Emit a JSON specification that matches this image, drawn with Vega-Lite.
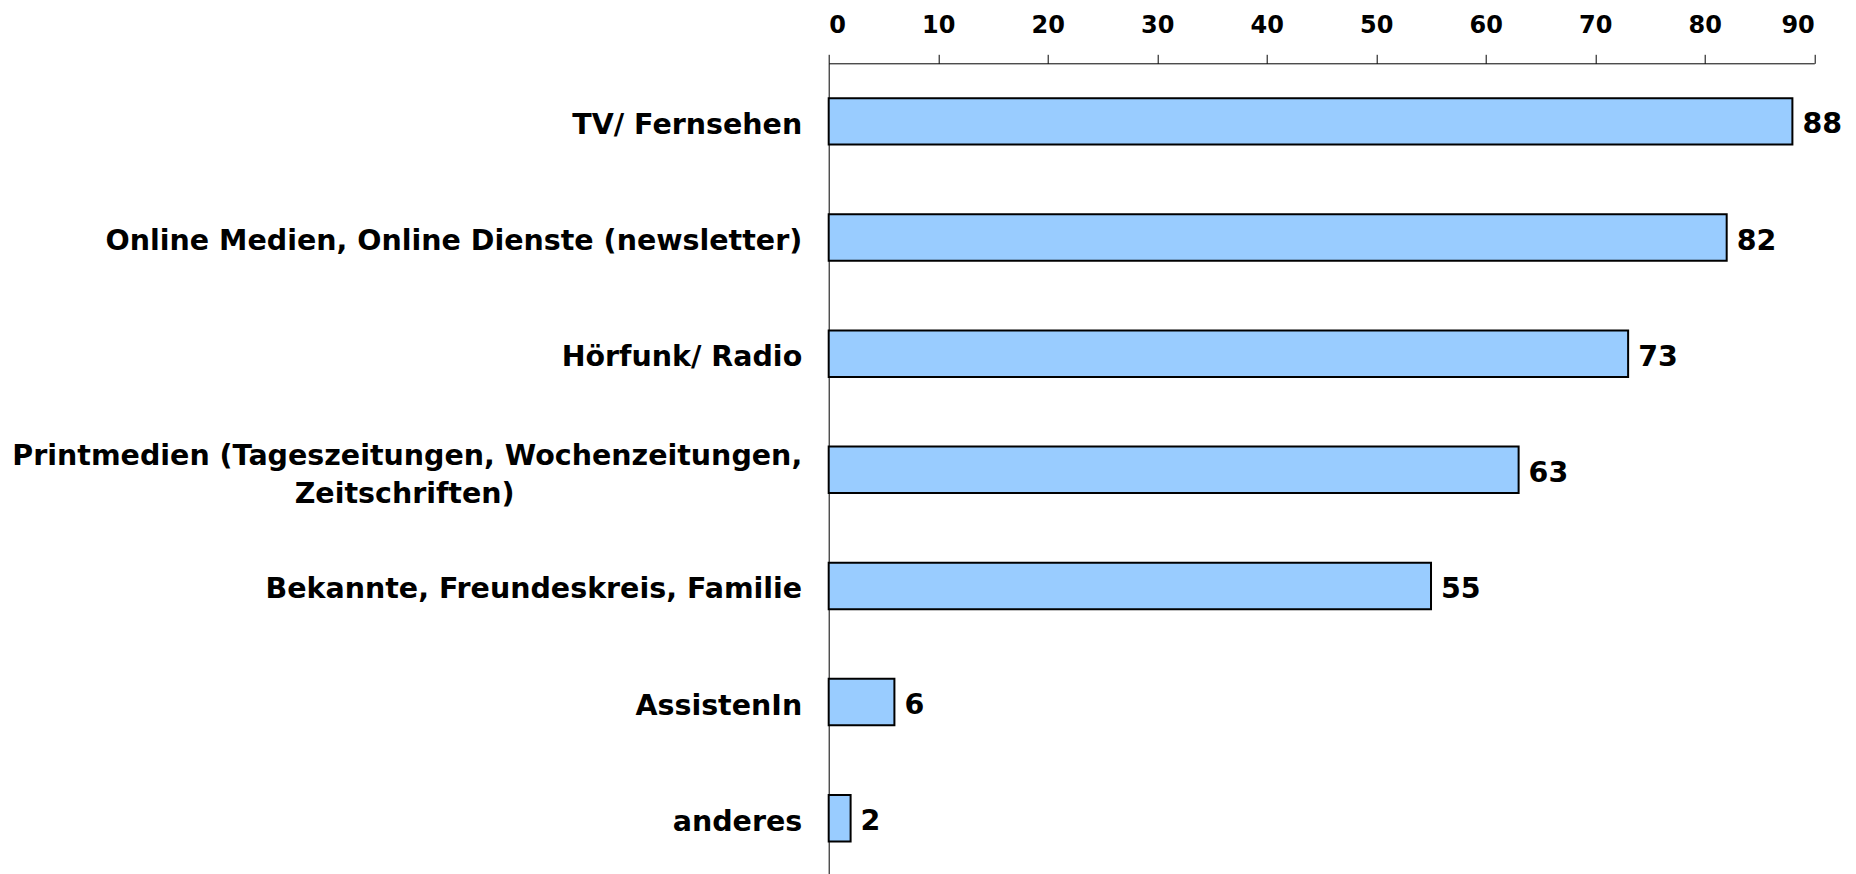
{
  "$schema": "https://vega.github.io/schema/vega-lite/v6.json",
  "autosize": "none",
  "padding": {"left": 828.7, "top": 63.3, "right": 41.7, "bottom": 0},
  "width": 985.6,
  "height": 813,
  "background": "white",
  "config": {
    "view": {"stroke": null},
    "font": "DejaVu Sans"
  },
  "data": {
    "values": [
      {"quelle": "TV/ Fernsehen", "wert": 88},
      {"quelle": "Online Medien, Online Dienste (newsletter)", "wert": 82},
      {"quelle": "Hörfunk/ Radio", "wert": 73},
      {"quelle": "Printmedien (Tageszeitungen, Wochenzeitungen, Zeitschriften)", "wert": 63},
      {"quelle": "Bekannte, Freundeskreis, Familie", "wert": 55},
      {"quelle": "AssistenIn", "wert": 6},
      {"quelle": "anderes", "wert": 2}
    ]
  },
  "encoding": {
    "y": {
      "field": "quelle",
      "type": "nominal",
      "sort": null,
      "scale": {"paddingInner": 0.6, "paddingOuter": 0.3},
      "axis": {
        "title": null,
        "ticks": false,
        "domainColor": "#000000",
        "domainWidth": 1,
        "labelFont": "DejaVu Sans",
        "labelFontSize": 28.5,
        "labelFontWeight": "bold",
        "labelColor": "#000000",
        "labelPadding": 27,
        "labelLimit": 0,
        "labelLineHeight": 38,
        "labelOffset": {"condition": {"test": "datum.value == 'Printmedien (Tageszeitungen, Wochenzeitungen, Zeitschriften)'", "value": -14}, "value": 3.5},
        "labelExpr": "datum.value == 'Printmedien (Tageszeitungen, Wochenzeitungen, Zeitschriften)' ? ['Printmedien (Tageszeitungen, Wochenzeitungen,', 'Zeitschriften)\u00a0\u00a0\u00a0\u00a0\u00a0\u00a0\u00a0\u00a0\u00a0\u00a0\u00a0\u00a0\u00a0\u00a0\u00a0\u00a0\u00a0\u00a0\u00a0\u00a0\u00a0\u00a0\u00a0\u00a0\u00a0\u00a0\u00a0\u00a0\u00a0\u200b'] : datum.value"
      }
    },
    "x": {
      "field": "wert",
      "type": "quantitative",
      "scale": {"domain": [0, 90], "nice": false, "zero": true},
      "axis": {
        "orient": "top",
        "title": null,
        "values": [0, 10, 20, 30, 40, 50, 60, 70, 80, 90],
        "grid": false,
        "domainColor": "#000000",
        "domainWidth": 1,
        "tickColor": "#000000",
        "tickSize": 9,
        "tickWidth": 1,
        "labelFont": "DejaVu Sans",
        "labelFontSize": 24,
        "labelFontWeight": "bold",
        "labelColor": "#000000",
        "labelPadding": 17
      }
    }
  },
  "layer": [
    {
      "mark": {"type": "bar", "fill": "#99CCFF", "stroke": "#000000", "strokeWidth": 2}
    },
    {
      "mark": {"type": "text", "align": "left", "baseline": "middle", "dx": 10, "dy": 3, "fontSize": 28.5, "fontWeight": "bold", "font": "DejaVu Sans", "color": "#000000"},
      "encoding": {"text": {"field": "wert", "type": "quantitative"}}
    }
  ]
}
